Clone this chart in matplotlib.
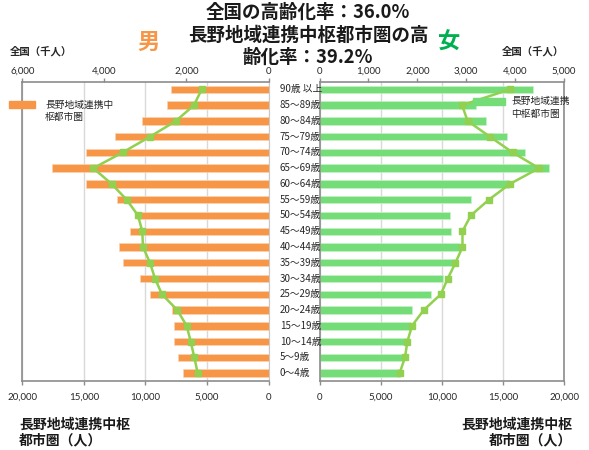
import matplotlib
matplotlib.use("Agg")
import matplotlib.pyplot as plt
from matplotlib.patches import Rectangle
import numpy as np

plt.rcParams['font.family'] = ['Noto Sans CJK JP', 'DejaVu Sans']

# ---------------- data (bottom -> top) ----------------
ages = ["0～4歳", "5～9歳", "10～14歳", "15～19歳", "20～24歳", "25～29歳",
        "30～34歳", "35～39歳", "40～44歳", "45～49歳", "50～54歳", "55～59歳",
        "60～64歳", "65～69歳", "70～74歳", "75～79歳", "80～84歳", "85～89歳",
        "90歳 以上"]
male_region = [6950, 7350, 7680, 7680, 7840, 9600, 10440, 11840, 12170, 11250,
               10710, 12280, 14830, 17590, 14830, 12470, 10300, 8270, 7950]
male_national = [1726, 1808, 1896, 1994, 2223, 2596, 2766, 2888, 3059, 3076,
                 3181, 3456, 3822, 4270, 3554, 2888, 2254, 1816, 1628]
female_region = [6560, 6830, 7160, 7380, 7570, 9120, 10080, 11120, 11420, 10790,
                 10660, 12400, 15490, 18740, 16780, 15330, 13660, 12840, 17480]
female_national = [1639, 1748, 1797, 1891, 2131, 2480, 2623, 2781, 2924, 2924,
                   3094, 3463, 3893, 4488, 3949, 3484, 3027, 2916, 3893]

region_ticks = [0, 5000, 10000, 15000, 20000]
male_nat_ticks = [0, 2000, 4000, 6000]
female_nat_ticks = [0, 1000, 2000, 3000, 4000, 5000]

title_lines = ["全国の高齢化率：36.0%", "長野地域連携中枢都市圏の高", "齢化率：39.2%"]
legend_label_left = "長野地域連携中\n枢都市圏"
legend_label_right = "長野地域連携\n中枢都市圏"

# ---------------- style ----------------
W, H = 589, 450
ORANGE = "#F79646"
GREEN_BAR = "#74DD78"
LINE = "#92D050"
AXC = "#8C8C8C"
GRID = "#D9D9D9"
TXT = "#262626"
NUMFONT = ["Lato", "DejaVu Sans"]

fig = plt.figure(figsize=(W / 100, H / 100), dpi=100)


def fx(px):
    return px / W


def fy(py):
    return 1 - py / H


top_px, bot_px = 81.5, 381.0
axL = fig.add_axes([fx(22.3), fy(bot_px), fx(268.5) - fx(22.3), fy(top_px) - fy(bot_px)])
axR = fig.add_axes([fx(319.5), fy(bot_px), fx(564) - fx(319.5), fy(top_px) - fy(bot_px)])

y = np.arange(len(ages))
bh = 0.47


def fmt(v):
    return f"{v:,}"


def style_axes(ax, ax2, side):
    for s in ax.spines.values():
        s.set_color(AXC)
        s.set_linewidth(1.2)
    ax.spines['top'].set_visible(False)
    if side == 'L':
        ax.spines['right'].set_color("#C8C8C8")
        ax.spines['right'].set_linewidth(0.8)
    else:
        ax.spines['right'].set_color(AXC)
    for s in ax2.spines.values():
        s.set_visible(False)
    ax2.spines['top'].set_visible(True)
    ax2.spines['top'].set_color(AXC)
    ax2.spines['top'].set_linewidth(1.2)
    ax.set_ylim(-0.5, len(ages) - 0.5)
    ax.set_yticks([])
    ax.tick_params(axis='x', direction='out', length=3, color=AXC, width=1,
                   pad=5.5, labelsize=7, labelcolor=TXT)
    ax2.tick_params(axis='x', direction='out', length=3, color=AXC, width=1,
                    pad=1.2, labelsize=7, labelcolor=TXT)
    for lab in ax.get_xticklabels() + ax2.get_xticklabels():
        lab.set_family(NUMFONT)
    ax.grid(axis='x', color=GRID, linewidth=1.0, zorder=0)
    ax.set_axisbelow(True)


# ---- left (male) ----
axL.barh(y, male_region, height=bh, color=ORANGE, edgecolor="#FAD3B3",
         linewidth=0.5, zorder=2)
axL.set_xlim(20000, 0)
axL.set_xticks(region_ticks)
axL.set_xticklabels([fmt(v) for v in region_ticks])
axL2 = axL.twiny()
axL2.plot(male_national, y, color=LINE, lw=1.8, marker='s', markersize=4,
          markerfacecolor=LINE, markeredgecolor=LINE, zorder=3)
axL2.set_xlim(6000, 0)
axL2.set_xticks(male_nat_ticks)
axL2.set_xticklabels([fmt(v) for v in male_nat_ticks])
axL2.set_ylim(-0.5, len(ages) - 0.5)
style_axes(axL, axL2, 'L')

# ---- right (female) ----
axR.barh(y, female_region, height=bh, color=GREEN_BAR, edgecolor="#C8F0CA",
         linewidth=0.5, zorder=2)
axR.set_xlim(0, 20000)
axR.set_xticks(region_ticks)
axR.set_xticklabels([fmt(v) for v in region_ticks])
axR2 = axR.twiny()
axR2.plot(female_national, y, color=LINE, lw=1.8, marker='s', markersize=4,
          markerfacecolor=LINE, markeredgecolor=LINE, zorder=3)
axR2.set_xlim(0, 5000)
axR2.set_xticks(female_nat_ticks)
axR2.set_xticklabels([fmt(v) for v in female_nat_ticks])
axR2.set_ylim(-0.5, len(ages) - 0.5)
style_axes(axR, axR2, 'R')

# ---- age labels between panels ----
for yi, lab in zip(y, ages):
    py = axL.transData.transform((0, yi))[1]
    fig.text(fx(280), py / fig.dpi / fig.get_figheight(), lab, fontsize=7,
             color=TXT, ha='left', va='center')

# ---- legends (manual) ----
fig.patches.append(Rectangle((fx(9), fy(107.5)), fx(35) - fx(9), fy(100.5) - fy(107.5),
                             transform=fig.transFigure, color=ORANGE, zorder=5))
fig.text(fx(45), fy(104.5), legend_label_left.split("\n")[0], fontsize=7, color=TXT,
         ha='left', va='center', zorder=6)
fig.text(fx(45), fy(117), legend_label_left.split("\n")[1], fontsize=7, color=TXT,
         ha='left', va='center', zorder=6)

fig.patches.append(Rectangle((fx(473), fy(104.5)), fx(505) - fx(473), fy(97.5) - fy(104.5),
                             transform=fig.transFigure, color=GREEN_BAR, zorder=5))
fig.text(fx(511), fy(101), legend_label_right.split("\n")[0], fontsize=7, color=TXT,
         ha='left', va='center', zorder=6)
fig.text(fx(511), fy(113.5), legend_label_right.split("\n")[1], fontsize=7, color=TXT,
         ha='left', va='center', zorder=6)

# ---- titles and labels ----
for py, line in zip([12, 35, 57], title_lines):
    fig.text(fx(308), fy(py), line, fontsize=13.3, fontweight='bold', color='#1A1A1A',
             ha='center', va='center')

fig.text(fx(148), fy(42), "男", fontsize=16, fontweight='bold', color=ORANGE,
         ha='center', va='center')
fig.text(fx(449), fy(42), "女", fontsize=16, fontweight='bold', color="#00B050",
         ha='center', va='center')

fig.text(fx(10), fy(51), "全国（千人）", fontsize=7.5, fontweight='bold', color=TXT,
         ha='left', va='center')
fig.text(fx(564), fy(51), "全国（千人）", fontsize=7.5, fontweight='bold', color=TXT,
         ha='right', va='center')

fig.text(fx(19), fy(425), "長野地域連携中枢", fontsize=10, fontweight='bold', color='#1A1A1A',
         ha='left', va='center')
fig.text(fx(19), fy(440), "都市圏（人）", fontsize=10, fontweight='bold', color='#1A1A1A',
         ha='left', va='center')
fig.text(fx(572), fy(425), "長野地域連携中枢", fontsize=10, fontweight='bold', color='#1A1A1A',
         ha='right', va='center')
fig.text(fx(572), fy(440), "都市圏（人）", fontsize=10, fontweight='bold', color='#1A1A1A',
         ha='right', va='center')

fig.savefig("out.png", dpi=100, facecolor='white')
